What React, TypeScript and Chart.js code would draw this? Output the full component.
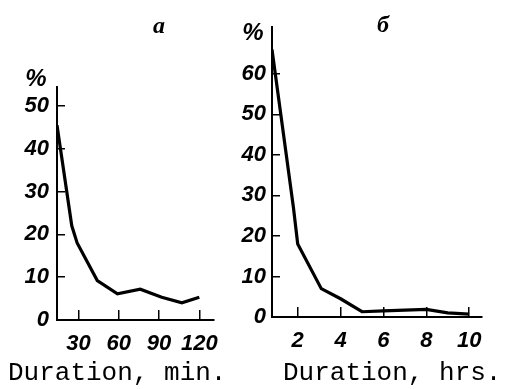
import React, { useEffect, useRef } from "react";
import { Chart, registerables } from "chart.js";
Chart.register(...registerables);

// Panel "a": duration in minutes
const minutes = [14, 25, 29, 44, 59, 76, 92, 107, 120];
const minutesPct = [45.5, 22, 18, 9.2, 6.1, 7.2, 5.3, 4.0, 5.3];
const minuteTicks = [30, 60, 90, 120];
const minutePctTicks = [0, 10, 20, 30, 40, 50];

// Panel "б": duration in hours
const hours = [0.8, 1.8, 2, 3.1, 4, 5, 6, 8, 9, 10];
const hoursPct = [66, 27, 18, 7, 4.5, 1.3, 1.5, 1.9, 1, 0.7];
const hourTicks = [2, 4, 6, 8, 10];
const hourPctTicks = [0, 10, 20, 30, 40, 50, 60];

const TICK_FAMILY = "'Liberation Sans', Arial, sans-serif";

type PanelProps = {
  left: number;
  width: number;
  xs: number[];
  ys: number[];
  xTicks: number[];
  yTicks: number[];
  xMin: number;
  xMax: number;
  yMax: number;
  yAxisWidth: number;
  padRight: number;
  padTop: number;
  padBottom: number;
  yLabelPad: number;
};

function Panel(p: PanelProps) {
  const ref = useRef<HTMLCanvasElement | null>(null);
  useEffect(() => {
    if (!ref.current) return;
    const tickFont = { family: TICK_FAMILY, size: 22, style: "italic" as const, weight: "bold" as const };
    const chart = new Chart(ref.current, {
      type: "line",
      data: {
        datasets: [
          {
            data: p.xs.map((x, i) => ({ x, y: p.ys[i] })),
            borderColor: "#000",
            borderWidth: 3.2,
            pointRadius: 0,
            tension: 0,
            fill: false,
          },
        ],
      },
      options: {
        responsive: false,
        animation: false,
        devicePixelRatio: 1,
        layout: { padding: { left: 0, right: p.padRight, top: p.padTop, bottom: p.padBottom } },
        plugins: { legend: { display: false }, tooltip: { enabled: false }, title: { display: false } },
        scales: {
          x: {
            type: "linear",
            min: p.xMin,
            max: p.xMax,
            afterBuildTicks: (s: any) => {
              s.ticks = p.xTicks.map((v) => ({ value: v }));
            },
            afterFit: (s: any) => {
              s.height = 40;
            },
            grid: { drawOnChartArea: false, drawTicks: true, tickLength: -10, color: "#000", lineWidth: 1.5 },
            border: { display: true, color: "#000", width: 2 },
            ticks: {
              color: "#000",
              font: tickFont,
              padding: 21,
              maxRotation: 0,
              autoSkip: false,
              callback: (v: any) => String(v),
            },
          },
          y: {
            type: "linear",
            min: 0,
            max: p.yMax,
            afterBuildTicks: (s: any) => {
              s.ticks = p.yTicks.map((v) => ({ value: v }));
            },
            afterFit: (s: any) => {
              s.width = p.yAxisWidth;
            },
            grid: { drawOnChartArea: false, drawTicks: true, tickLength: -8, color: "#000", lineWidth: 1.5 },
            border: { display: true, color: "#000", width: 2 },
            ticks: {
              color: "#000",
              font: tickFont,
              padding: p.yLabelPad,
              autoSkip: false,
              callback: (v: any) => String(v),
            },
          },
        },
      },
    });
    return () => chart.destroy();
  }, []);
  return (
    <canvas
      ref={ref}
      width={p.width}
      height={389}
      style={{ position: "absolute", left: p.left, top: 0, width: p.width, height: 389 }}
    />
  );
}

const labelStyle: React.CSSProperties = {
  position: "absolute",
  fontFamily: TICK_FAMILY,
  fontStyle: "italic",
  fontWeight: "bold",
  fontSize: 24,
  lineHeight: "24px",
  transform: "translate(-50%, -50%)",
  whiteSpace: "nowrap",
  color: "#000",
};

const titleStyle: React.CSSProperties = {
  position: "absolute",
  fontFamily: "'Liberation Serif', serif",
  fontStyle: "italic",
  fontWeight: "bold",
  fontSize: 24,
  lineHeight: "24px",
  transform: "translate(-50%, -50%)",
  color: "#000",
};

const captionStyle: React.CSSProperties = {
  position: "absolute",
  fontFamily: "'Liberation Mono', monospace",
  fontSize: 26,
  lineHeight: "26px",
  whiteSpace: "nowrap",
  color: "#000",
};

export default function App() {
  return (
    <div style={{ position: "absolute", left: 0, top: 0, width: 507, height: 389, background: "#fff", overflow: "hidden" }}>
      <Panel
        left={0}
        width={240}
        xs={minutes}
        ys={minutesPct}
        xTicks={minuteTicks}
        yTicks={minutePctTicks}
        xMin={14}
        xMax={131}
        yMax={54.4}
        yAxisWidth={57}
        padRight={14}
        padTop={87}
        padBottom={29}
        yLabelPad={16}
      />
      <Panel
        left={236}
        width={271}
        xs={hours}
        ys={hoursPct}
        xTicks={hourTicks}
        yTicks={hourPctTicks}
        xMin={0.8}
        xMax={10.6}
        yMax={71.5}
        yAxisWidth={36}
        padRight={25}
        padTop={12}
        padBottom={32}
        yLabelPad={14}
      />
      <div style={{ ...labelStyle, left: 36, top: 78 }}>%</div>
      <div style={{ ...labelStyle, left: 253, top: 32 }}>%</div>
      <div style={{ ...titleStyle, left: 159, top: 25 }}>а</div>
      <div style={{ ...titleStyle, left: 383, top: 24 }}>б</div>
      <div style={{ ...captionStyle, left: 8, top: 360 }}>Duration, min.</div>
      <div style={{ ...captionStyle, left: 283, top: 360 }}>Duration, hrs.</div>
    </div>
  );
}
